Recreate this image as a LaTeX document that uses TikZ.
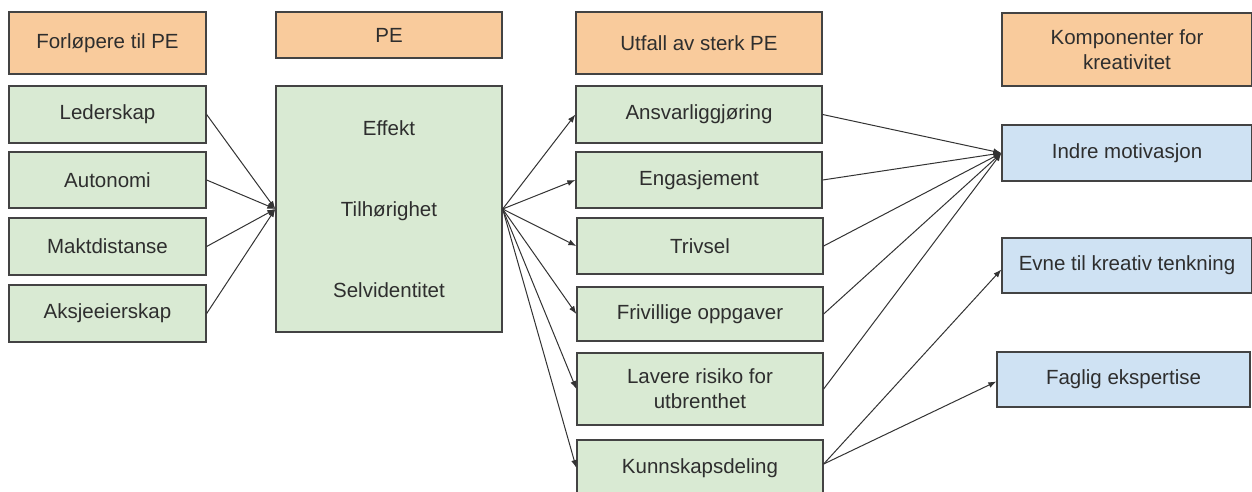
\documentclass[tikz,border=0pt]{standalone}
\usepackage{fontspec}
\setmainfont{Liberation Sans}
\usetikzlibrary{arrows.meta}
\definecolor{hdr}{HTML}{F9CB9C}
\definecolor{grn}{HTML}{D9EAD3}
\definecolor{blu}{HTML}{CFE2F3}
\definecolor{edge}{HTML}{434343}
\definecolor{txt}{HTML}{2E2E2E}
\definecolor{arr}{HTML}{333333}
\tikzset{
  box/.style={draw=edge, line width=1.3pt, rectangle, inner sep=0pt, align=center,
    text=txt, font=\fontsize{20.5}{25}\selectfont},
  hbox/.style={box, fill=hdr},
  gbox/.style={box, fill=grn},
  bbox/.style={box, fill=blu},
  conn/.style={draw=arr, line width=1pt, -{Latex[length=8pt,width=6pt]}}
}
\begin{document}
\begin{tikzpicture}[x=1pt,y=-1pt]
\useasboundingbox (0,0) rectangle (1252,491);
\clip (0,0) rectangle (1252,491);
% column 1
\node[hbox, minimum width=197, minimum height=62] (h1) at (107.5,43) {Forløpere til PE};
\node[gbox, minimum width=197, minimum height=57] (led) at (107.5,114.5) {Lederskap};
\node[gbox, minimum width=197, minimum height=56] (aut) at (107.5,180) {Autonomi};
\node[gbox, minimum width=197, minimum height=57] (mak) at (107.5,246.5) {Maktdistanse};
\node[gbox, minimum width=197, minimum height=57] (aks) at (107.5,313.5) {Aksjeeierskap};
% column 2
\node[hbox, minimum width=226, minimum height=46] (h2) at (389,35) {PE};
\node[gbox, minimum width=226, minimum height=246] (pe) at (389,209)
  {Effekt\\[56pt]Tilhørighet\\[56pt]Selvidentitet};
% column 3
\node[hbox, minimum width=246, minimum height=62] (h3) at (699,43) {Utfall av sterk PE};
\node[gbox, minimum width=246, minimum height=57] (ans) at (699,114.5) {Ansvarliggjøring};
\node[gbox, minimum width=246, minimum height=56] (eng) at (699,180) {Engasjement};
\node[gbox, minimum width=246, minimum height=56] (tri) at (700,246) {Trivsel};
\node[gbox, minimum width=246, minimum height=54] (fri) at (700,314) {Frivillige oppgaver};
\node[gbox, minimum width=246, minimum height=72] (lav) at (700,389) {Lavere risiko for\\utbrenthet};
\node[gbox, minimum width=246, minimum height=56] (kun) at (700,468) {Kunnskapsdeling};
% column 4
\node[hbox, minimum width=250, minimum height=73] (h4) at (1127,49.5) {Komponenter for\\kreativitet};
\node[bbox, minimum width=250, minimum height=56] (ind) at (1127,153) {Indre motivasjon};
\node[bbox, minimum width=250, minimum height=55] (evn) at (1127,265.5) {Evne til kreativ tenkning};
\node[bbox, minimum width=253, minimum height=55] (fag) at (1123.5,379.5) {Faglig ekspertise};
% connectors
\foreach \s in {led,aut,mak,aks} \draw[conn] (\s.east) -- (pe.west);
\foreach \t in {ans,eng,tri,fri,lav,kun} \draw[conn] (pe.east) -- (\t.west);
\foreach \s in {ans,eng,tri,fri,lav} \draw[conn] (\s.east) -- (ind.west);
\coordinate (kunout) at ([yshift=4pt]kun.east);
\draw[conn] (kunout) -- ([yshift=-4pt]evn.west);
\draw[conn] (kunout) -- ([yshift=-2pt]fag.west);
\end{tikzpicture}
\end{document}
